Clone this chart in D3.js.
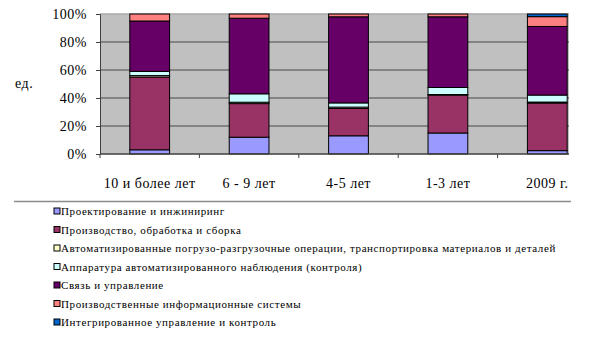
<!DOCTYPE html>
<html>
<head>
<meta charset="utf-8">
<script src="https://cdn.jsdelivr.net/npm/d3@7"></script>
<style>
  body { margin: 0; background: #fff; }
</style>
</head>
<body>
<div id="chart"></div>
<script>
// categories along x
const categories = ["10 и более лет", "6 - 9 лет", "4-5 лет", "1-3 лет", "2009 г."];

// series (bottom to top), shares in %
const seriesNames = [
    "Проектирование и инжиниринг",
    "Производство, обработка и сборка",
    "Автоматизированные погрузо-разгрузочные операции, транспортировка материалов и деталей",
    "Аппаратура автоматизированного наблюдения (контроля)",
    "Связь и управление",
    "Производственные информационные системы",
    "Интегрированное управление и контроль"
];
const designEng   = [3, 12, 13, 15, 2.4];
const production  = [52, 24, 19.5, 27, 34];
const handling    = [1, 1, 1, 0.5, 0.7];
const monitoring  = [3, 6, 3, 5, 5];
const comms       = [36, 54, 61.5, 50.5, 49];
const infoSystems = [5, 3, 2, 2, 7];
const integrated  = [0, 0, 0, 0, 1.9];

const yTicks = [0, 20, 40, 60, 80, 100];
const colors = ["#9999FF", "#993366", "#FFFFCC", "#CCFFFF", "#660066", "#FF8080", "#0066CC"];

const serif = "'Liberation Serif', 'Times New Roman', Times, 'DejaVu Serif', serif";

let rows = categories.map((c, i) => ({
    cat: c,
    s0: designEng[i], s1: production[i], s2: handling[i], s3: monitoring[i],
    s4: comms[i], s5: infoSystems[i], s6: integrated[i]
}));
let keys = ["s0", "s1", "s2", "s3", "s4", "s5", "s6"];

let svg = d3.select("#chart").append("svg")
    .attr("width", 605)
    .attr("height", 352);

let plot = {left: 100, right: 569, top: 14, bottom: 154};

// band step continues past the visible plot edge (chart is cut off on the right)
let x = d3.scaleBand()
    .domain(categories)
    .range([plot.left, 597])
    .paddingInner(0.6)
    .paddingOuter(0.3);

let y = d3.scaleLinear()
    .domain([0, 100])
    .range([plot.bottom, plot.top]);

// plot background
svg.append("rect")
    .attr("x", plot.left)
    .attr("y", plot.top)
    .attr("width", plot.right - plot.left)
    .attr("height", plot.bottom - plot.top)
    .attr("fill", "#C0C0C0");

// gridlines
svg.append("g")
    .selectAll("line")
    .data(yTicks.slice(1))
    .enter()
    .append("line")
    .attr("x1", plot.left)
    .attr("x2", plot.right)
    .attr("y1", d => y(d))
    .attr("y2", d => y(d))
    .attr("stroke", d => d === 100 ? "#a8a8a8" : "#707070")
    .attr("stroke-width", 1.5);

// stacked bars
let stack = d3.stack().keys(keys)(rows);

svg.append("g")
    .selectAll("g")
    .data(stack)
    .enter()
    .append("g")
    .attr("fill", (d, i) => colors[i])
    .selectAll("rect")
    .data(d => d.filter(p => p[1] - p[0] > 0))
    .enter()
    .append("rect")
    .attr("x", d => x(d.data.cat))
    .attr("width", x.bandwidth())
    .attr("y", d => y(d[1]))
    .attr("height", d => y(d[0]) - y(d[1]))
    .attr("stroke", "#000")
    .attr("stroke-width", 1);

// y axis
let yAxis = svg.append("g")
    .attr("transform", `translate(${plot.left},0)`)
    .call(d3.axisLeft(y).tickValues(yTicks).tickSize(4).tickPadding(9).tickFormat(d => d + "%"));
yAxis.attr("font-family", null).attr("font-size", null);
yAxis.selectAll("text")
    .style("font-family", serif)
    .style("font-size", "14px")
    .style("letter-spacing", "0.5px")
    .attr("fill", "#000");
yAxis.select(".domain").attr("stroke", "#404040");
yAxis.selectAll(".tick line").attr("stroke", "#404040");

// x axis: ticks at category boundaries
let xAxisG = svg.append("g");
xAxisG.append("line")
    .attr("x1", plot.left)
    .attr("x2", plot.right)
    .attr("y1", plot.bottom)
    .attr("y2", plot.bottom)
    .attr("stroke", "#404040")
    .attr("stroke-width", 1.5);
xAxisG.selectAll(".xtick")
    .data(categories)
    .enter()
    .append("line")
    .attr("class", "xtick")
    .attr("x1", d => x(d) - x.step() * 0.3)
    .attr("x2", d => x(d) - x.step() * 0.3)
    .attr("y1", plot.bottom)
    .attr("y2", plot.bottom + 4)
    .attr("stroke", "#404040");
xAxisG.selectAll(".xlabel")
    .data(categories)
    .enter()
    .append("text")
    .attr("class", "xlabel")
    .attr("x", d => x(d) + x.bandwidth() / 2)
    .attr("y", 188)
    .attr("text-anchor", "middle")
    .style("font-family", serif)
    .style("font-size", "14px")
    .style("letter-spacing", "0.5px")
    .text(d => d);

// y axis title
svg.append("text")
    .attr("x", 15)
    .attr("y", 88)
    .style("font-family", serif)
    .style("font-size", "14px")
    .style("letter-spacing", "0.5px")
    .text("ед.");

// legend
svg.append("line")
    .attr("x1", 14)
    .attr("x2", 571)
    .attr("y1", 201.5)
    .attr("y2", 201.5)
    .attr("stroke", "#8c8c8c")
    .attr("stroke-width", 1.5);

let legend = svg.append("g")
    .selectAll("g")
    .data(seriesNames)
    .enter()
    .append("g")
    .attr("transform", (d, i) => `translate(54, ${211 + i * 18.5})`);

legend.append("rect")
    .attr("x", 0)
    .attr("y", -3)
    .attr("width", 6)
    .attr("height", 6)
    .attr("fill", (d, i) => colors[i])
    .attr("stroke", "#000")
    .attr("stroke-width", 1);

legend.append("text")
    .attr("x", 7)
    .attr("y", 4)
    .style("font-family", serif)
    .style("font-size", "11px")
    .style("letter-spacing", "0.6px")
    .text(d => d);
</script>
</body>
</html>
